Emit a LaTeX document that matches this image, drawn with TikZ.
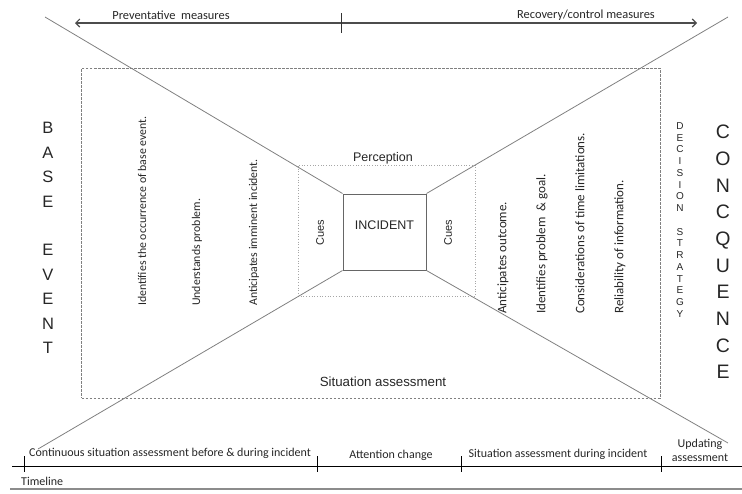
\documentclass[tikz,border=0pt]{standalone}
\usepackage{fontspec}
\setmainfont{Carlito}
\newfontfamily\arialfont{Liberation Sans}
\usetikzlibrary{arrows.meta}
\begin{document}
\begin{tikzpicture}[x=1pt, y=-1pt, every node/.style={inner sep=1pt, text=black!85}]
		\tikzstyle{ray} = [draw=gray, line width=0.8pt]
		\tikzstyle{measure} = [draw=black!70, line width=1.1pt, -{Straight Barb[length=4pt, width=8pt]}]
		\tikzstyle{vertleft} = [rotate=90, anchor=west, font=\fontsize{11.8}{14}\selectfont]
		\tikzstyle{vertright} = [rotate=90, anchor=west, font=\fontsize{13}{15}\selectfont]
		\tikzstyle{phase} = [font=\fontsize{12}{14}\selectfont, align=center]
		\tikzstyle{stack} = [align=center]
		
		\useasboundingbox (0,0) rectangle (742,493);
		
		% boxes
		\node[draw=black!50, dash pattern=on 2.5pt off 1.5pt, line width=0.7pt, minimum width=578.5pt, minimum height=330pt] (situation) at (370.75,233) {};
		\node[draw=black!35, dotted, line width=0.7pt, minimum width=177pt, minimum height=131pt] (perception) at (386.5,230.5) {};
		\node[draw=black!60, fill=white, line width=1pt, minimum width=83pt, minimum height=76pt, label={[font=\arialfont\fontsize{12.5}{14}\selectfont, yshift=7pt]center:INCIDENT}] (incident) at (384.5,232) {};
		
		\node[font=\arialfont\fontsize{12.5}{14}\selectfont] (perlabel) at (383,158) {Perception};
		\node[font=\arialfont\fontsize{13.3}{15}\selectfont] (sitlabel) at (383,382) {Situation assessment};
		\node[rotate=90, font=\arialfont\fontsize{11}{13}\selectfont] (cuesl) at (320,233) {Cues};
		\node[rotate=90, font=\arialfont\fontsize{11}{13}\selectfont] (cuesr) at (448,233) {Cues};
		
		% rays to the corners of the incident
		\coordinate (tl) at (45,17);
		\coordinate (bl) at (38,449);
		\coordinate (tr) at (728,17);
		\coordinate (br) at (728,443);
		\draw[ray] (tl) -- (incident.north west);
		\draw[ray] (bl) -- (incident.south west);
		\draw[ray] (tr) -- (incident.north east);
		\draw[ray] (br) -- (incident.south east);
		
		% measures
		\coordinate (split) at (341,23);
		\coordinate (ptip) at (75,23);
		\coordinate (rtip) at (697,23);
		\draw[measure] (split) -- (ptip);
		\draw[measure] (split) -- (rtip);
		\draw[black!80, line width=1pt] ([yshift=10pt]split) -- ([yshift=-10pt]split);
		\node[font=\fontsize{12.4}{14}\selectfont] (prev) at (171,15) {Preventative\ \ measures};
		\node[font=\fontsize{12.4}{14}\selectfont] (recov) at (586,15) {Recovery/control measures};
		
		% before the incident
		\node[vertleft] (ident) at (142,307) {Identifies the occurrence of base event.};
		\node[vertleft] (under) at (197,307) {Understands problem.};
		\node[vertleft] (antic) at (254,307) {Anticipates imminent incident.};
		
		% after the incident
		\node[vertright] (outcome) at (503,315) {Anticipates outcome.};
		\node[vertright] (goal) at (542,315) {Identifies problem\ \ \& goal.};
		\node[vertright] (timelim) at (580,315) {Considerations of time limitations.};
		\node[vertright] (reliab) at (620,315) {Reliability of information.};
		
		\node[stack, font=\arialfont\fontsize{16.5}{24.4}\selectfont] (base) at (48,238) {B\\A\\S\\E\\[24.4pt]E\\V\\E\\N\\T};
		\node[stack, font=\arialfont\fontsize{10}{11.75}\selectfont] (decision) at (680,220) {D\\E\\C\\I\\S\\I\\O\\N\\[11.75pt]S\\T\\R\\A\\T\\E\\G\\Y};
		\node[stack, font=\arialfont\fontsize{19.5}{26.7}\selectfont] (conseq) at (723,252) {C\\O\\N\\C\\Q\\U\\E\\N\\C\\E};
		
		% timeline
		\coordinate (tstart) at (12,466);
		\coordinate (tend) at (742,466);
		\draw[black, line width=1pt] (tstart) -- (tend);
		\foreach \t in {24,317,461,661}
			\draw[black, line width=1pt] (\t,456) -- (\t,472);
		\draw[black!45, line width=2.5pt] (10,489) -- (742,489);
		\node[phase] (cont) at (170,453) {Continuous situation assessment before \& during incident};
		\node[phase] (attn) at (391,455) {Attention change};
		\node[phase] (during) at (558,454) {Situation assessment during incident};
		\node[phase, font=\fontsize{12}{14}\selectfont] (update) at (700,450) {Updating\\assessment};
		\node[font=\fontsize{12}{14}\selectfont, anchor=west] (tlabel) at (20,481) {Timeline};
\end{tikzpicture}
\end{document}
